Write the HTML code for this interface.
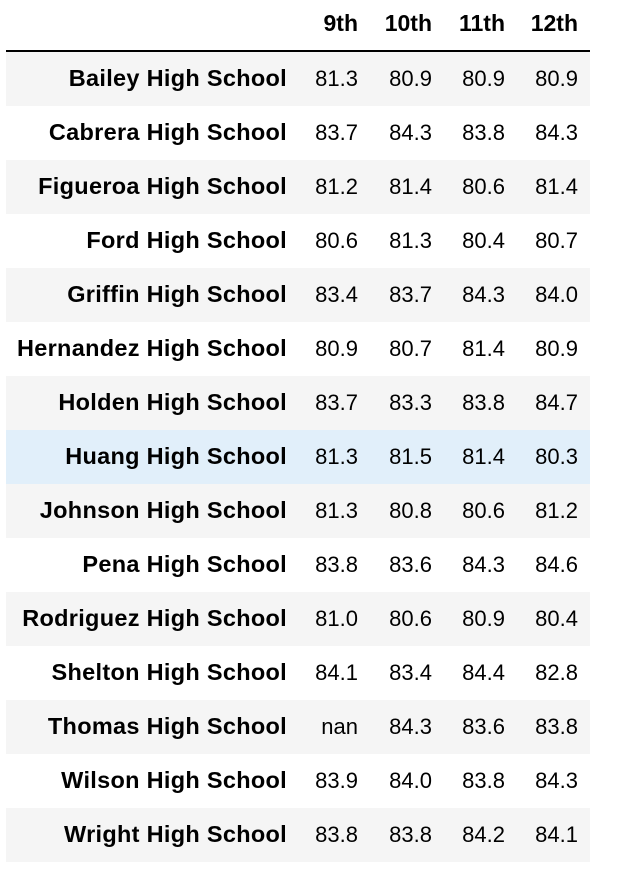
<!DOCTYPE html>
<html><head><meta charset="utf-8"><style>
body{margin:0;width:622px;height:886px;background:#fff;font-family:"Liberation Sans",Arial,sans-serif;position:relative;overflow:hidden}
.hdr{position:absolute;top:10px;font-weight:bold;font-size:23px;color:#000;text-align:right;width:70px}
.rule{position:absolute;left:6px;top:50px;width:584px;height:2px;background:#000}
.row{position:absolute;left:6px;width:584px;height:54px}
.row.odd{background:#f5f5f5}
.row.hl{background:#e1effa}
.name{position:absolute;right:303px;top:13px;font-weight:bold;font-size:23.5px;white-space:nowrap;color:#000;letter-spacing:0.3px}
.v{position:absolute;top:14px;font-size:22px;width:70px;text-align:right;color:#000}
</style></head><body>
<div class="hdr" style="left:288px">9th</div>
<div class="hdr" style="left:362px">10th</div>
<div class="hdr" style="left:435px">11th</div>
<div class="hdr" style="left:508px">12th</div>
<div class="rule"></div>
<div id="rows"></div>
<script>
const schools=["Bailey High School","Cabrera High School","Figueroa High School","Ford High School","Griffin High School","Hernandez High School","Holden High School","Huang High School","Johnson High School","Pena High School","Rodriguez High School","Shelton High School","Thomas High School","Wilson High School","Wright High School"];
const g9=["81.3","83.7","81.2","80.6","83.4","80.9","83.7","81.3","81.3","83.8","81.0","84.1","nan","83.9","83.8"];
const g10=["80.9","84.3","81.4","81.3","83.7","80.7","83.3","81.5","80.8","83.6","80.6","83.4","84.3","84.0","83.8"];
const g11=["80.9","83.8","80.6","80.4","84.3","81.4","83.8","81.4","80.6","84.3","80.9","84.4","83.6","83.8","84.2"];
const g12=["80.9","84.3","81.4","80.7","84.0","80.9","84.7","80.3","81.2","84.6","80.4","82.8","83.8","84.3","84.1"];
const cols=[g9,g10,g11,g12];
const colNames=["9th","10th","11th","12th"];
const lefts=[282,356,429,502];
const box=document.getElementById('rows');
schools.forEach((s,i)=>{
  const r=document.createElement('div');
  r.className='row'+(i===7?' hl':(i%2===0?' odd':''));
  r.style.top=(52+54*i)+'px';
  
  
  const n=document.createElement('div');
  n.className='name';n.textContent=s;
  
  
  r.appendChild(n);
  cols.forEach((c,j)=>{
    const v=document.createElement('div');
    v.className='v';v.textContent=c[i];v.style.left=lefts[j]+'px';
    
    
    r.appendChild(v);
  });
  box.appendChild(r);
});
</script>
</body></html>
